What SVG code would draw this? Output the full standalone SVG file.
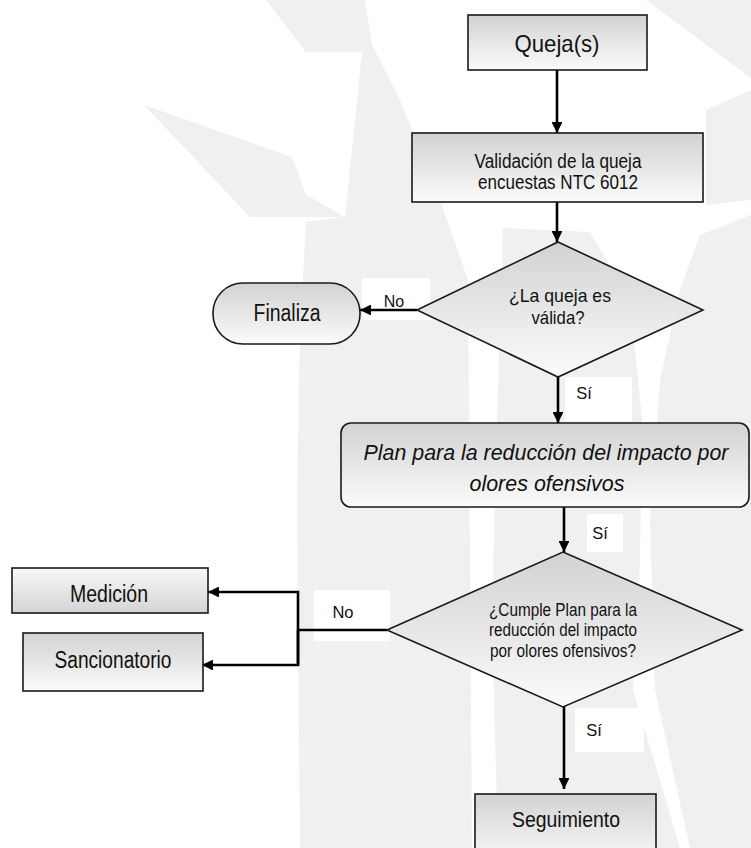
<svg xmlns="http://www.w3.org/2000/svg" width="751" height="848" viewBox="0 0 751 848">
<defs>
<linearGradient id="gDown" x1="0" y1="0" x2="0" y2="1"><stop offset="0" stop-color="#d2d2d2"/><stop offset="1" stop-color="#fbfbfb"/></linearGradient>
<linearGradient id="gUp" x1="0" y1="0" x2="0" y2="1"><stop offset="0" stop-color="#f8f8f8"/><stop offset="1" stop-color="#d4d4d4"/></linearGradient>
<marker id="ah" viewBox="0 0 10 10" refX="10" refY="5" markerWidth="5" markerHeight="4.2" markerUnits="strokeWidth" orient="auto"><path d="M0,0 L10,5 L0,10 Z" fill="#000"/></marker>
</defs>
<style>
.wm{fill:#f0f0f0}
.box{stroke:#1a1a1a;stroke-width:1.6;fill:url(#gDown)}
.boxu{stroke:#1a1a1a;stroke-width:1.6;fill:url(#gUp)}
.t{font-family:"Liberation Sans Narrow","Arial Narrow","Liberation Sans",Arial,sans-serif;fill:#111;text-anchor:middle}
.ti{font-family:"Liberation Sans",Arial,sans-serif;fill:#111;text-anchor:middle;font-style:italic}
.c{stroke:#000;stroke-width:2.6;fill:none}
.lbl{fill:#fff}
</style>
<rect width="751" height="848" fill="#fff"/>
<g id="watermark">
<polygon class="wm" points="144,105 292,157 306,195 345,217 250,217"/>
<polygon class="wm" points="266,0 365,0 372,45 400,100 440,200 468,280 472,848 300,848 297,500 300,330 306,222 345,217 355,120 362,52 306,52"/>
<polygon class="wm" points="646,0 751,0 751,78"/>
<polygon class="wm" points="700,235 751,215 751,848 690,848 655,690 650,520 660,380 680,290"/>
<polygon class="wm" points="503,228 590,232 630,300 642,420 640,560 633,690 680,848 498,848 492,620 497,420"/>
<polygon class="wm" points="706,110 751,90 751,200 706,205"/>
</g>
<g id="connectors">
<line class="c" x1="557" y1="70" x2="557" y2="133" marker-end="url(#ah)"/>
<line class="c" x1="557" y1="202" x2="557" y2="242" marker-end="url(#ah)"/>
<rect class="lbl" x="362" y="278" width="68" height="42"/>
<line class="c" x1="417" y1="310" x2="360" y2="310" marker-end="url(#ah)"/>
<text class="t" x="394" y="307" font-size="16">No</text>
<rect class="lbl" x="565" y="377" width="67" height="44"/>
<line class="c" x1="558" y1="377" x2="558" y2="423" marker-end="url(#ah)"/>
<text class="t" x="584" y="399" font-size="16.5">Sí</text>
<rect class="lbl" x="587" y="514" width="36" height="38"/>
<line class="c" x1="564" y1="507" x2="564" y2="552" marker-end="url(#ah)"/>
<text class="t" x="600" y="539" font-size="16.5">Sí</text>
<rect class="lbl" x="314" y="590" width="76" height="51"/>
<polyline class="c" points="387,630 298,630"/>
<polyline class="c" points="298,665 298,592 208,592" marker-end="url(#ah)"/>
<polyline class="c" points="298,630 298,665 202,665" marker-end="url(#ah)"/>
<text class="t" x="343" y="618" font-size="16.5">No</text>
<rect class="lbl" x="575" y="708" width="69" height="44"/>
<line class="c" x1="564" y1="706" x2="564" y2="789" marker-end="url(#ah)"/>
<text class="t" x="594" y="736" font-size="16.5">Sí</text>
</g>
<g id="queja">
<rect class="box" x="468" y="15" width="179" height="55"/>
<text class="t" x="557" y="52" font-size="24" textLength="85" lengthAdjust="spacingAndGlyphs">Queja(s)</text>
</g>
<g id="validacion">
<rect class="box" x="412" y="133" width="291" height="69"/>
<text class="t" x="558" y="168" font-size="20" textLength="167" lengthAdjust="spacingAndGlyphs">Validación de la queja</text>
<text class="t" x="558" y="189" font-size="20" textLength="160" lengthAdjust="spacingAndGlyphs">encuestas NTC 6012</text>
</g>
<g id="decision1">
<polygon class="box" points="558,242 703,310 558,377 417,310"/>
<text class="t" x="560" y="302" font-size="18.5" textLength="102" lengthAdjust="spacingAndGlyphs">¿La queja es</text>
<text class="t" x="558" y="324" font-size="18.5" textLength="53" lengthAdjust="spacingAndGlyphs">válida?</text>
</g>
<g id="finaliza">
<rect class="box" x="213" y="283" width="147" height="61" rx="30" ry="30"/>
<text class="t" x="287" y="321" font-size="23" textLength="67" lengthAdjust="spacingAndGlyphs">Finaliza</text>
</g>
<g id="plan">
<rect class="box" x="341" y="423" width="408" height="84" rx="10" ry="10"/>
<text class="ti" x="546" y="460" font-size="22.5" textLength="365" lengthAdjust="spacingAndGlyphs">Plan para la reducción del impacto por</text>
<text class="ti" x="547" y="491" font-size="22.5" textLength="155" lengthAdjust="spacingAndGlyphs">olores ofensivos</text>
</g>
<g id="decision2">
<polygon class="box" points="563,552 742,630 563,707 387,630"/>
<text class="t" x="563" y="616" font-size="17.5" textLength="148" lengthAdjust="spacingAndGlyphs">¿Cumple Plan para la</text>
<text class="t" x="563" y="636" font-size="17.5" textLength="148" lengthAdjust="spacingAndGlyphs">reducción del impacto</text>
<text class="t" x="563" y="657" font-size="17.5" textLength="146" lengthAdjust="spacingAndGlyphs">por olores ofensivos?</text>
</g>
<g id="medicion">
<rect class="boxu" x="12" y="568" width="196" height="45"/>
<text class="t" x="109" y="602" font-size="23" textLength="78" lengthAdjust="spacingAndGlyphs">Medición</text>
</g>
<g id="sancionatorio">
<rect class="box" x="23" y="633" width="180" height="58"/>
<text class="t" x="113" y="668" font-size="23" textLength="117" lengthAdjust="spacingAndGlyphs">Sancionatorio</text>
</g>
<g id="seguimiento">
<rect class="box" x="475" y="794" width="181" height="70"/>
<text class="t" x="566" y="827" font-size="22" textLength="108" lengthAdjust="spacingAndGlyphs">Seguimiento</text>
</g>
</svg>
